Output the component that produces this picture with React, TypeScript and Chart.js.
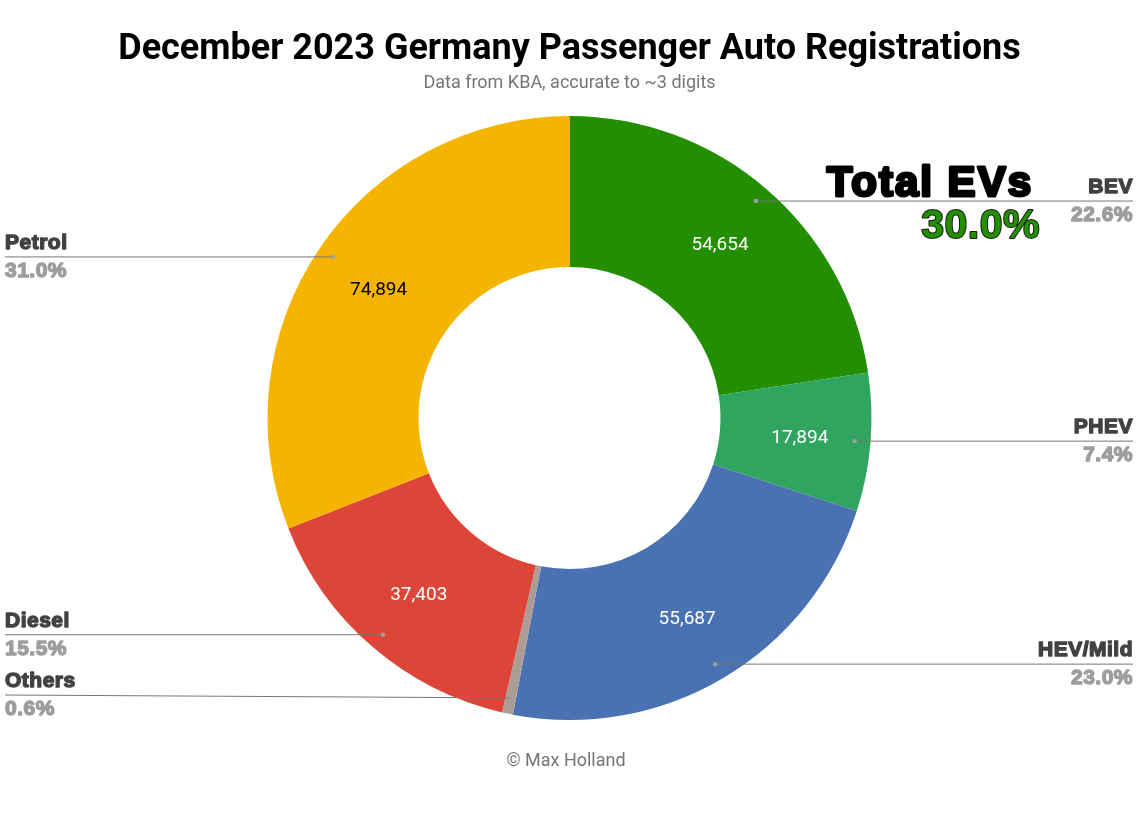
import React, { useEffect, useRef } from 'react';
import Chart from 'chart.js/auto';

const categories = ['BEV', 'PHEV', 'HEV/Mild', 'Others', 'Diesel', 'Petrol'];
const registrations = [54654, 17894, 55687, 1400, 37403, 74894];
const sliceColors = ['#238f00', '#2fa55f', '#4a72b3', '#ab9d95', '#dd4538', '#f4b400'];
const valueColors = ['#ffffff', '#ffffff', '#ffffff', '#ffffff', '#ffffff', '#000000'];
const evShareLabel = '30.0%';

const fmt = (n: number) => n.toLocaleString('en-US');

const calloutPlugin = {
  id: 'callouts',
  afterDraw(chart: any) {
    const { ctx, chartArea, width } = chart;
    const meta = chart.getDatasetMeta(0);
    const total = registrations.reduce((a, b) => a + b, 0);
    ctx.save();
    meta.data.forEach((arc: any, i: number) => {
      const { x, y, startAngle, endAngle, outerRadius } = arc.getProps(
        ['x', 'y', 'startAngle', 'endAngle', 'outerRadius'],
        true
      );
      const mid = (startAngle + endAngle) / 2;
      const share = registrations[i] / total;

      // value inside slice
      if (share > 0.02) {
        const rv = outerRadius * 0.765;
        ctx.font = '19px Roboto';
        ctx.fillStyle = valueColors[i];
        ctx.textAlign = 'center';
        ctx.textBaseline = 'middle';
        ctx.fillText(fmt(registrations[i]), x + Math.cos(mid) * rv, y + Math.sin(mid) * rv + 2);
      }

      // leader line + outside label
      const rp = outerRadius * 0.947;
      const px = x + Math.cos(mid) * rp;
      const py = y + Math.sin(mid) * rp;
      const right = Math.cos(mid) >= 0;
      const ly = Math.min(py, chartArea.bottom - 25);
      const ex = right ? width - 6 : 5;
      ctx.strokeStyle = '#777777';
      ctx.lineWidth = 1;
      ctx.beginPath();
      ctx.moveTo(px, py);
      ctx.lineTo(ex, ly);
      ctx.stroke();
      ctx.fillStyle = '#9e9e9e';
      ctx.beginPath();
      ctx.arc(px, py, 2.2, 0, Math.PI * 2);
      ctx.fill();

      ctx.textAlign = right ? 'right' : 'left';
      ctx.textBaseline = 'middle';
      ctx.font = 'bold 21px "Liberation Sans"';
      (ctx as any).letterSpacing = '0.5px';
      ctx.lineWidth = 1.4;
      ctx.lineJoin = 'round';
      ctx.fillStyle = '#424242';
      ctx.strokeStyle = '#424242';
      ctx.fillText(categories[i], ex, ly - 14);
      ctx.strokeText(categories[i], ex, ly - 14);
      const pct = (share * 100).toFixed(1) + '%';
      ctx.fillStyle = '#9e9e9e';
      ctx.strokeStyle = '#9e9e9e';
      ctx.fillText(pct, ex, ly + 14);
      ctx.strokeText(pct, ex, ly + 14);
      (ctx as any).letterSpacing = '0px';
    });

    // Total EVs annotation
    ctx.textAlign = 'right';
    ctx.textBaseline = 'alphabetic';
    ctx.font = 'bold 42px "Liberation Sans"';
    (ctx as any).letterSpacing = '2px';
    ctx.lineJoin = 'round';
    ctx.lineWidth = 3;
    ctx.strokeStyle = '#000000';
    ctx.fillStyle = '#000000';
    ctx.strokeText('Total EVs', 1033, 196);
    ctx.fillText('Total EVs', 1033, 196);
    ctx.font = 'bold 41px "Liberation Sans"';
    (ctx as any).letterSpacing = '0.5px';
    ctx.lineWidth = 2;
    ctx.strokeStyle = '#1a1a1a';
    ctx.strokeText(evShareLabel, 1040, 238);
    ctx.fillStyle = '#238f00';
    ctx.fillText(evShareLabel, 1040, 238);
    (ctx as any).letterSpacing = '0px';

    // footer
    ctx.font = '18px Roboto';
    ctx.fillStyle = '#757575';
    ctx.textAlign = 'center';
    ctx.textBaseline = 'middle';
    ctx.fillText('\u00a9 Max Holland', 566, 761);
    ctx.restore();
  },
};

export default function App() {
  const canvasRef = useRef<HTMLCanvasElement | null>(null);
  const chartRef = useRef<Chart | null>(null);

  useEffect(() => {
    document.body.style.margin = '0';
    const ctx = canvasRef.current?.getContext('2d');
    if (!ctx) return;
    try { chartRef.current?.destroy(); } catch {}

    chartRef.current = new Chart(ctx, {
      type: 'doughnut',
      data: {
        labels: categories,
        datasets: [
          {
            data: registrations,
            backgroundColor: sliceColors,
            borderWidth: 0,
          },
        ],
      },
      options: {
        responsive: true,
        maintainAspectRatio: false,
        animation: false,
        cutout: '50%',
        layout: { padding: { top: 0, bottom: 94, left: 0, right: 0 } },
        plugins: {
          legend: { display: false },
          tooltip: { enabled: false },
          title: {
            display: true,
            text: 'December 2023 Germany Passenger Auto Registrations',
            color: '#000000',
            font: { family: 'Roboto', size: 36, weight: 'bold' },
            padding: { top: 28.4, bottom: 0.6 },
          },
          subtitle: {
            display: true,
            text: 'Data from KBA, accurate to ~3 digits',
            color: '#757575',
            font: { family: 'Roboto', size: 18 },
            padding: { top: 0, bottom: 22.2 },
          },
        },
      } as any,
      plugins: [calloutPlugin],
    });

    return () => {
      try { chartRef.current?.destroy(); } catch {}
      chartRef.current = null;
    };
  }, []);

  return (
    <div style={{ width: 1139, height: 814 }}>
      <canvas ref={canvasRef} />
    </div>
  );
}
